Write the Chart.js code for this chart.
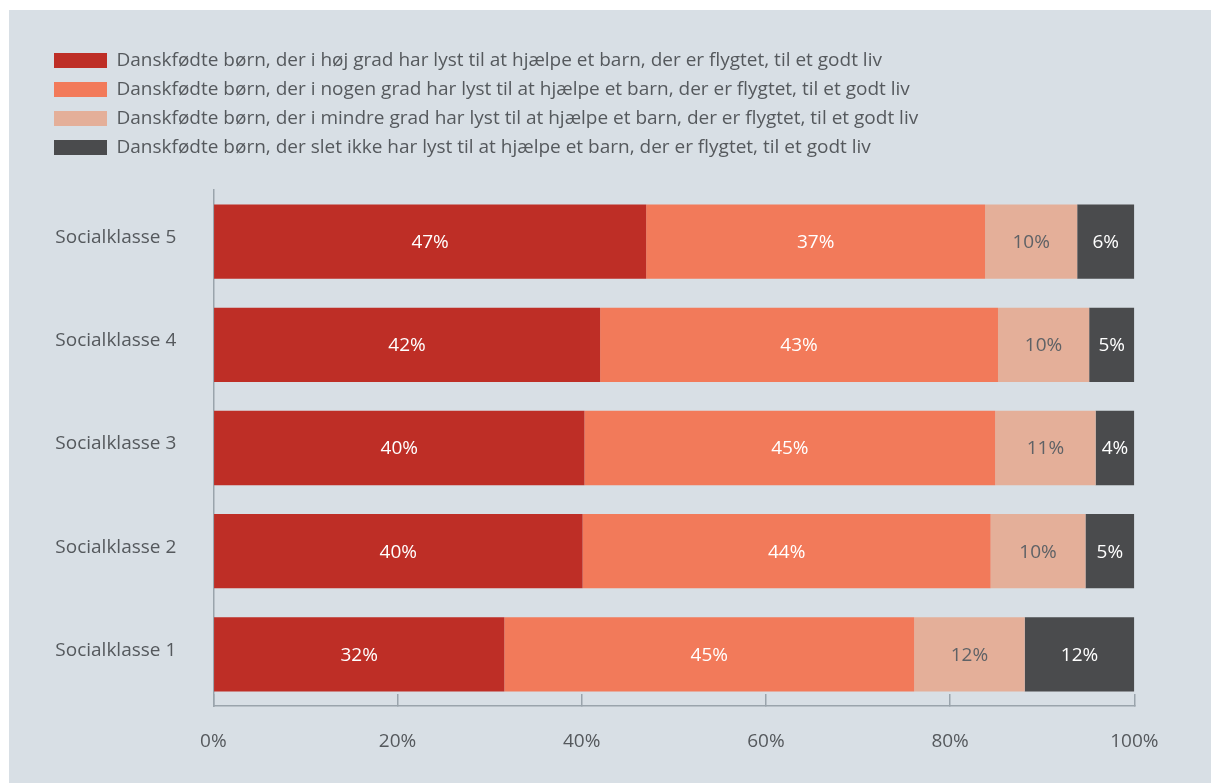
<!DOCTYPE html>
<html>
<head>
<meta charset="utf-8">
<script src="https://cdn.jsdelivr.net/npm/chart.js@4/dist/chart.umd.min.js"></script>
<style>
  html, body { margin: 0; padding: 0; background: #ffffff; }
  #wrap { position: absolute; left: 9px; top: 10px; width: 1202px; height: 773px; background: #d8dfe5; }
  canvas { display: block; }
</style>
</head>
<body>
<div id="wrap"><canvas id="c" width="1202" height="773"></canvas></div>
<script>
const categories = ['Socialklasse 5', 'Socialklasse 4', 'Socialklasse 3', 'Socialklasse 2', 'Socialklasse 1'];
const seriesNames = [
  'Danskfødte børn, der i høj grad har lyst til at hjælpe et barn, der er flygtet, til et godt liv',
  'Danskfødte børn, der i nogen grad har lyst til at hjælpe et barn, der er flygtet, til et godt liv',
  'Danskfødte børn, der i mindre grad har lyst til at hjælpe et barn, der er flygtet, til et godt liv',
  'Danskfødte børn, der slet ikke har lyst til at hjælpe et barn, der er flygtet, til et godt liv'
];
const highValues = [47.0, 42.0, 40.3, 40.1, 31.6];
const someValues = [36.8, 43.2, 44.6, 44.3, 44.5];
const lessValues = [10.0, 9.9, 10.9, 10.3, 12.0];
const noneValues = [6.2, 4.9, 4.2, 5.3, 11.9];
const highLabels = [47, 42, 40, 40, 32];
const someLabels = [37, 43, 45, 44, 45];
const lessLabels = [10, 10, 11, 10, 12];
const noneLabels = [6, 5, 4, 5, 12];
const xTicks = [0, 20, 40, 60, 80, 100];

const FONT = '"Open Sans"';
const FS = 19;
const TEXT = '#55595d';
const AXIS = '#9aa4ac';

const barLabelPlugin = {
  id: 'barLabels',
  afterDatasetsDraw(chart) {
    const ctx = chart.ctx;
    ctx.save();
    ctx.font = FS + 'px ' + FONT;
    ctx.textAlign = 'center';
    ctx.textBaseline = 'middle';
    chart.data.datasets.forEach((ds, di) => {
      const meta = chart.getDatasetMeta(di);
      meta.data.forEach((el, i) => {
        const cx = (el.x + el.base) / 2;
        ctx.fillStyle = ds.labelColor;
        ctx.fillText(ds.shownLabels[i] + '%', cx, el.y + 1);
      });
    });
    ctx.restore();
  }
};

const legendHeightPlugin = {
  id: 'legendHeight',
  beforeLayout(chart) {
    const lg = chart.legend;
    if (lg && !lg._patched) {
      const f = lg.fit;
      lg.fit = function () { f.call(this); this.height = 149; };
      lg._patched = true;
    }
  }
};

new Chart(document.getElementById('c'), {
  type: 'bar',
  data: {
    labels: categories,
    datasets: [
      { label: seriesNames[0], data: highValues, shownLabels: highLabels, backgroundColor: '#be2e26', labelColor: '#ffffff' },
      { label: seriesNames[1], data: someValues, shownLabels: someLabels, backgroundColor: '#f27a5a', labelColor: '#ffffff' },
      { label: seriesNames[2], data: lessValues, shownLabels: lessLabels, backgroundColor: '#e4af99', labelColor: '#5f6266' },
      { label: seriesNames[3], data: noneValues, shownLabels: noneLabels, backgroundColor: '#4a4b4d', labelColor: '#ffffff' }
    ]
  },
  options: {
    indexAxis: 'y',
    responsive: false,
    animation: false,
    devicePixelRatio: 1,
    barPercentage: 0.9,
    categoryPercentage: 0.8,
    layout: { padding: { left: 35, right: 76.7, top: 31, bottom: 0 } },
    plugins: {
      tooltip: { enabled: false },
      legend: {
        position: 'top',
        align: 'start',
        labels: {
          boxWidth: 53,
          boxHeight: 15,
          padding: 10,
          color: TEXT,
          font: { family: FONT, size: FS }
        }
      }
    },
    scales: {
      x: {
        stacked: true,
        min: 0,
        max: 100,
        afterBuildTicks(scale) { scale.ticks = xTicks.map(v => ({ value: v })); },
        afterFit(scale) { scale.height = 77; },
        grid: { drawOnChartArea: false, drawTicks: true, tickLength: -12, color: AXIS, lineWidth: 1.5 },
        border: { display: true, color: AXIS, width: 1.5 },
        ticks: {
          padding: 36.6,
          color: TEXT,
          font: { family: FONT, size: FS },
          callback: v => v + '%'
        }
      },
      y: {
        stacked: true,
        afterFit(scale) { scale.width = 169.3; },
        grid: { display: false, drawTicks: false },
        border: { display: true, color: AXIS, width: 1.5 },
        ticks: {
          padding: 37,
          labelOffset: -4,
          color: TEXT,
          font: { family: FONT, size: FS }
        }
      }
    }
  },
  plugins: [barLabelPlugin, legendHeightPlugin]
});
</script>
</body>
</html>
